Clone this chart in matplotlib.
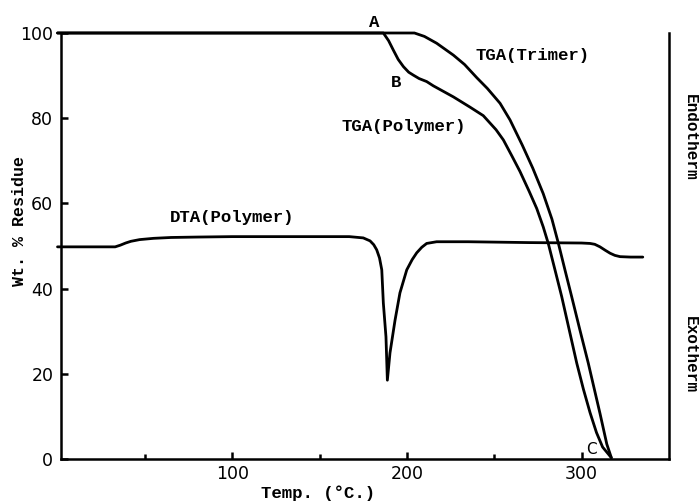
import matplotlib
matplotlib.use("Agg")
import matplotlib.pyplot as plt
from matplotlib.ticker import FixedLocator

# Data
trimer_t = [0, 100, 204.3, 210, 217, 226.6, 233, 240, 246, 253.3, 259, 266, 272, 278, 283, 286.7,
            290.5, 294.3, 299, 303.8, 307.2, 310.5, 314.4, 317.0]
trimer_w = [100, 100, 100, 99.2, 97.6, 94.8, 92.6, 89.5, 87, 83.5, 79.6, 73.7, 68.3, 62.3, 56.3, 50.6,
            44.3, 38.1, 30.3, 22.5, 16.5, 10.7, 3.5, 0.3]

poly_t = [0, 100, 186.5, 189.5, 192.2, 195, 198, 201, 203.7, 207, 211.3, 215.1, 226.6, 236.1, 243.7,
          251, 255.2, 260, 264.7, 270, 274.3, 278, 280.9, 284.8, 288.6, 292.9, 297.2, 301, 304.8,
          308.5, 312, 317.0]
poly_w = [100, 100, 100, 98.2, 96, 93.8, 92.1, 90.8, 90.1, 89.3, 88.6, 87.6, 85, 82.6, 80.6,
          77.3, 74.9, 71.2, 67.5, 62.8, 58.8, 54.5, 50.6, 44.3, 38.1, 30.3, 22.5, 16.4, 10.9,
          6.2, 2.8, 0.3]

dta_t = [0, 20, 33, 36, 39, 42, 47, 55, 65, 80, 100, 140, 167, 175, 178.9, 181, 182.7, 184.3, 185.6,
         186.5, 188, 188.8, 190.3, 193.2, 196, 199.9, 203, 205.6, 208.5, 211.3, 217, 235, 270, 300,
         304.8, 307.5, 310.5, 313.5, 316.3, 319, 322, 328, 335]
dta_w = [49.8, 49.8, 49.8, 50.2, 50.7, 51.1, 51.5, 51.8, 52.0, 52.1, 52.2, 52.2, 52.2, 51.9, 51.2, 50.3, 49.1, 47.2, 44.4,
         36.6, 28.7, 18.5, 24.9, 32.6, 39, 44.4, 46.8, 48.4, 49.7, 50.6, 51.0, 51.0, 50.8, 50.7,
         50.6, 50.4, 49.8, 49.0, 48.3, 47.8, 47.5, 47.4, 47.4]

x_major = [100, 200, 300]
x_minor = [50, 150, 250]
y_ticks = [0, 20, 40, 60, 80, 100]

mono = ["Liberation Mono", "DejaVu Sans Mono"]
num_font = "DejaVu Sans"

fig = plt.figure(figsize=(6.99, 5.04), dpi=100)
ax = fig.add_axes([61/699, 1-459/504, (669-61)/699, (459-33)/504])
ax.set_xlim(2, 350)
ax.set_ylim(0, 100)

lw = 2.0
for t, w in [(trimer_t, trimer_w), (poly_t, poly_w), (dta_t, dta_w)]:
    ax.plot(t, w, color="black", lw=lw, clip_on=False,
            solid_capstyle="round", solid_joinstyle="round")

ax.spines["top"].set_visible(False)
for s in ["left", "bottom", "right"]:
    ax.spines[s].set_linewidth(1.8)

ax.xaxis.set_major_locator(FixedLocator(x_major))
ax.xaxis.set_minor_locator(FixedLocator(x_minor))
ax.yaxis.set_major_locator(FixedLocator(y_ticks))
ax.tick_params(axis="x", which="major", direction="in", length=5, width=1.8, pad=4, labelsize=12.5)
ax.tick_params(axis="x", which="minor", direction="in", length=3.5, width=1.8)
ax.tick_params(axis="y", which="major", direction="in", length=5, width=1.8, pad=5.5, labelsize=12.5)
for lab in ax.get_xticklabels() + ax.get_yticklabels():
    lab.set_fontfamily(num_font)

fig.text(318/699, 1-493/504, "Temp. (°C.)", ha="center", va="center",
         family=mono, fontsize=12.5, fontweight="bold")
fig.text(20/699, 1-221/504, "Wt. % Residue", rotation=90, ha="center", va="center",
         family=mono, fontsize=12, fontweight="bold")

tkw = dict(family=mono, fontsize=12.5, fontweight="bold", color="black")
ax.text(181, 102.5, "A", ha="center", va="center", clip_on=False, **tkw)
ax.text(194, 88.3, "B", ha="center", va="center", **tkw)
ax.text(272, 94.8, "TGA(Trimer)", ha="center", va="center", **tkw)
ax.text(198, 78, "TGA(Polymer)", ha="center", va="center", **tkw)
ax.text(100, 56.6, "DTA(Polymer)", ha="center", va="center", **tkw)
ax.text(305.5, 2.3, "C", ha="center", va="center", family=num_font, fontsize=11)

fig.text(690/699, 1-137/504, "Endotherm", rotation=-90, ha="center", va="center",
         family=mono, fontsize=11.5, fontweight="bold")
fig.text(690/699, 1-355/504, "Exotherm", rotation=-90, ha="center", va="center",
         family=mono, fontsize=11.5, fontweight="bold")

fig.savefig("out.png", dpi=100)
